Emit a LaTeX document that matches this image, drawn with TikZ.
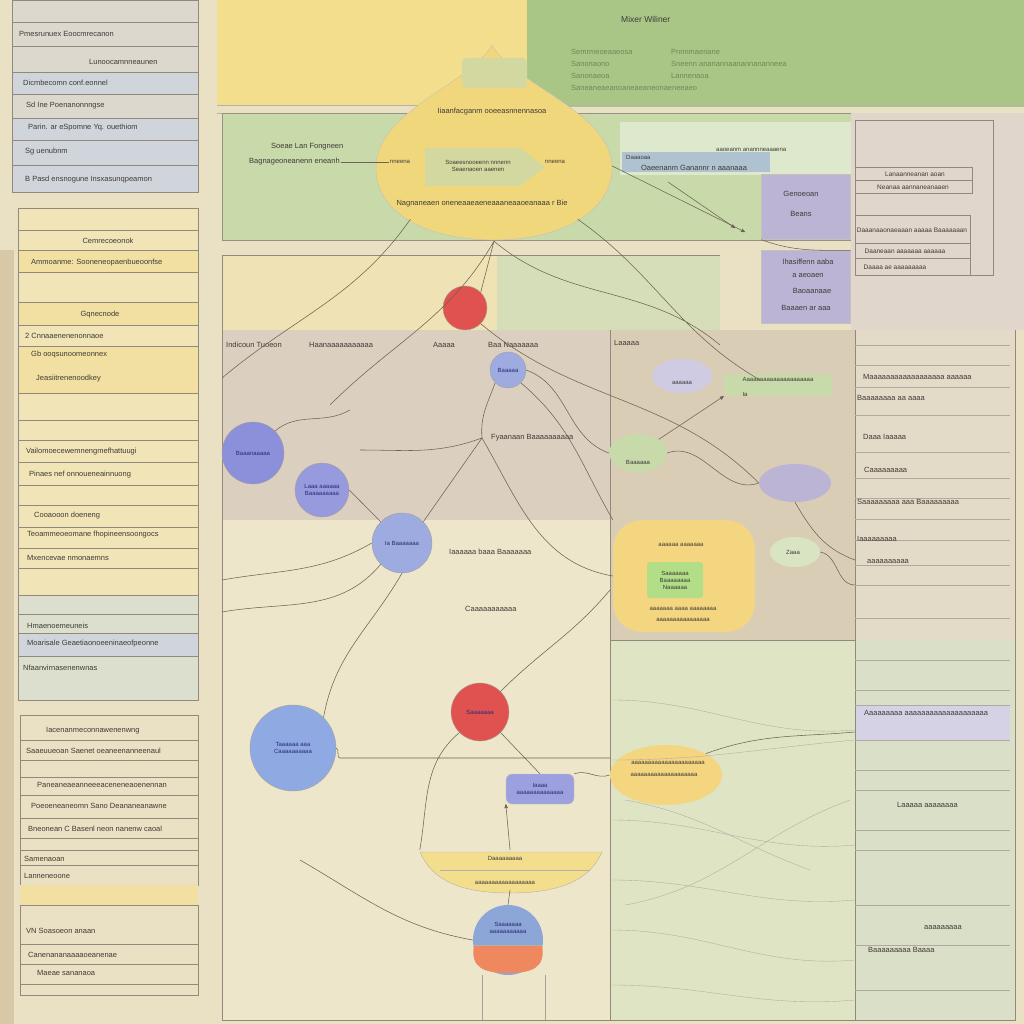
\documentclass[tikz,border=0pt]{standalone}
\usepackage{fontspec}
\setmainfont{Liberation Sans}
\usetikzlibrary{arrows, positioning, shapes.geometric}
\definecolor{bgbeige}{HTML}{EAE0C3}
\definecolor{leftstrip}{HTML}{D9C8A6}
\definecolor{paneltop}{HTML}{DDD8CE}
\definecolor{rowblue}{HTML}{D0D5DB}
\definecolor{panelyel}{HTML}{F1E4B6}
\definecolor{rowyel}{HTML}{F2E0A2}
\definecolor{panelgrn}{HTML}{DCDFCE}
\definecolor{yelbox}{HTML}{F3DE8E}
\definecolor{greenbox}{HTML}{A9C686}
\definecolor{greenpanel}{HTML}{C8D9AA}
\definecolor{blobyel}{HTML}{F1D77C}
\definecolor{innergrn}{HTML}{D2D8A0}
\definecolor{rowbluemid}{HTML}{AFC2D0}
\definecolor{purplebox}{HTML}{BBB4D5}
\definecolor{rightpanel}{HTML}{E0D6CB}
\definecolor{midyel}{HTML}{EFE2B4}
\definecolor{midgrn}{HTML}{D5DEB9}
\definecolor{midmauve}{HTML}{DBD0BF}
\definecolor{midright}{HTML}{DACDB5}
\definecolor{lowbeige}{HTML}{EEE6CB}
\definecolor{lowgrn}{HTML}{DFE4C5}
\definecolor{rightlow}{HTML}{DADFC8}
\definecolor{redc}{HTML}{E0524F}
\definecolor{bluec}{HTML}{9DABE0}
\definecolor{skyc}{HTML}{8FAAE2}
\definecolor{violetc}{HTML}{8C8FD9}
\definecolor{orangec}{HTML}{EF875F}
\definecolor{edgec}{HTML}{6E6252}
\definecolor{txtc}{HTML}{3E3B37}
\definecolor{grntxt}{HTML}{6F8858}
\tikzset{
    %Define standard arrow tip
    >=stealth',
}

\begin{document}
\begin{tikzpicture}[x=1pt,y=-1pt]
    \tikzset{
      lbl/.style={font=\fontsize{7.5}{8.5}\selectfont, text=txtc, inner sep=1pt, anchor=west},
      clbl/.style={lbl, anchor=center},
      sml/.style={clbl, font=\fontsize{6}{7}\selectfont},
      ln/.style={draw=edgec, line width=0.55pt},
      hair/.style={draw=edgec!55, line width=0.35pt},
      rowline/.style={draw=edgec!75, line width=0.6pt},
      circ/.style={circle, draw=edgec!60, line width=0.4pt, inner sep=0pt,
                   font=\fontsize{6}{7}\selectfont, text=txtc!70!blue, align=center},
    }

    % background and panels
    \fill[bgbeige] (0,0) rectangle (1024,1024);
    \useasboundingbox (0,0) rectangle (1024,1024);
    \fill[leftstrip] (0,250) rectangle (14,1024);

    % left column
    \fill[paneltop] (12,0) rectangle (198,192);
    \fill[rowblue] (12,72) rectangle (198,94) (12,118) rectangle (198,192);
    \draw[rowline] (12,0) rectangle (198,192);
    \foreach \y in {22,46,72,94,118,140,165} \draw[rowline] (12,\y) -- (198,\y);
    \fill[panelyel] (18,208) rectangle (198,595);
    \fill[rowyel] (18,250) rectangle (198,272) (18,302) rectangle (198,325) (18,346) rectangle (198,393);
    \draw[rowline] (18,208) rectangle (198,595);
    \foreach \y in {230,250,272,302,325,346,393,420,440,462,485,505,527,548,568}
        \draw[rowline] (18,\y) -- (198,\y);
    \fill[panelgrn] (18,595) rectangle (198,700);
    \fill[rowblue] (18,633) rectangle (198,656);
    \draw[rowline] (18,595) rectangle (198,700);
    \foreach \y in {614,633,656} \draw[rowline] (18,\y) -- (198,\y);
    \draw[rowline] (20,715) rectangle (198,885);
    \foreach \y in {740,760,777,795,818,838,850,865} \draw[rowline] (20,\y) -- (198,\y);
    \fill[rowyel] (20,885) rectangle (198,905);
    \draw[rowline] (20,905) rectangle (198,995);
    \foreach \y in {944,964,984} \draw[rowline] (20,\y) -- (198,\y);

    % top boxes
    \fill[yelbox] (217,0) rectangle (527,105);
    \fill[greenbox] (527,0) rectangle (1024,107);
    \draw[edgec!50] (217,105) -- (1024,105) (217,113) -- (1024,113);
    \draw[edgec!70, fill=greenpanel] (222,113) rectangle (851,240);
    \fill[greenpanel!60!white] (620,122) rectangle (851,175);
    \fill[rightpanel] (851,113) rectangle (1024,330);
    \draw[rowline] (855,120) rectangle (993,275);

    % middle and lower regions
    \fill[midyel] (222,255) rectangle (497,330);
    \fill[midgrn] (497,255) rectangle (720,330);
    \fill[midmauve] (222,330) rectangle (610,520);
    \fill[midright] (610,330) rectangle (855,640);
    \fill[lowbeige] (222,520) rectangle (610,1020);
    \fill[lowgrn] (610,640) rectangle (855,1020);
    \fill[rightpanel!60!bgbeige] (855,330) rectangle (1015,640);
    \fill[rightlow] (855,640) rectangle (1015,1020);
    \fill[purplebox!60!white] (855,705) rectangle (1010,740);
    \draw[rowline] (222,255) -- (720,255);
    \draw[rowline] (222,255) -- (222,1020) -- (1015,1020) -- (1015,330);
    \draw[rowline] (610,330) -- (610,1020) (855,330) -- (855,1020);
    \draw[rowline] (610,640) -- (855,640);
    \foreach \y in {345,365,387,415,452,478,498,519,540,565,585,618,660,690,705,740,770,790,830,850,905,945,990}
        \draw[hair] (855,\y) -- (1010,\y);

    % yellow teardrop
    \draw[edgec!40, fill=blobyel] (492,45) .. controls (470,85) and (376,110) .. (376,168)
        .. controls (376,215) and (430,240) .. (494,240)
        .. controls (560,240) and (612,212) .. (612,168)
        .. controls (612,112) and (514,85) .. (492,45);
    \node[ellipse, minimum width=236, minimum height=150] (tear) at (494,166) {};
    \fill[innergrn, rounded corners=4] (462,58) rectangle (527,88);
    \fill[innergrn] (425,148) -- (520,148) -- (545,167) -- (520,186) -- (425,186) -- cycle;

    % purple boxes
    \node[draw=edgec!40, fill=purplebox, minimum width=89, minimum height=65] (genbox) at (806,207) {};
    \node[draw=edgec!40, fill=purplebox, minimum width=89, minimum height=73] (hasbox) at (806,287) {};
    \node[fill=rowbluemid, minimum width=148, minimum height=20, inner sep=0pt] (bluerow) at (696,162) {};

    % nodes in the middle
    \node[circ, fill=redc, minimum size=44] (redtop) at (465,308) {};
    \node[circ, fill=bluec, minimum size=36] (bluetop) at (508,370) {Baaaaa};
    \node[circ, fill=violetc, minimum size=62] (violet) at (253,453) {Baaanaaaaa};
    \node[circ, fill=violetc!90!white, minimum size=54, ellipse] (blob) at (322,490) {Laaa aaaaaa\\Baaaaaaaaa};
    \node[circ, fill=bluec, minimum size=60] (bluemid) at (402,543) {Ia Baaaaaaa};
    \node[circ, fill=skyc, minimum size=86] (bluebig) at (293,748) {Taaaaaa aaa\\Caaaaaaaaaa};
    \node[circ, fill=redc, minimum size=58] (redlow) at (480,712) {Saaaaaaa};
    \node[draw=edgec!40, fill=violetc!85!white, rounded corners=6, minimum width=68, minimum height=30,
          font=\fontsize{6}{7}\selectfont, text=txtc!70!blue, align=center] (bluerect) at (540,789) {Iaaaa\\aaaaaaaaaaaaaa};
    \node[ellipse, fill=yelbox!90!orange, minimum width=112, minimum height=60] (yelell) at (666,775) {};
    \node[ellipse, fill=purplebox, minimum width=72, minimum height=38] (purblob) at (795,483) {};
    \node[ellipse, fill=greenpanel, minimum width=58, minimum height=38] (grnblob) at (638,453) {};
    \node[ellipse, fill=purplebox!70!white, minimum width=60, minimum height=34] (palepur) at (682,376) {};
    \node[ellipse, fill=greenpanel!70!white, minimum width=50, minimum height=30] (grnfaint) at (795,552) {};
    \node[fill=greenpanel, minimum width=108, minimum height=22] (grnrow) at (778,385) {};

    % yellow block and bowl
    \node[draw=edgec!30, fill=yelbox!90!orange, rounded corners=28, minimum width=142, minimum height=112] (yelblock) at (684,576) {};
    \node[fill=innergrn!85!green, rounded corners=3, minimum width=56, minimum height=36,
          font=\fontsize{6}{7}\selectfont, text=txtc, align=center] (inner) at (675,580) {Saaaaaaa\\Baaaaaaaa\\Naaaaaa};
    \draw[edgec!50, fill=yelbox] (420,852) -- (602,852) .. controls (590,880) and (560,893) .. (510,893)
        .. controls (460,893) and (432,880) .. (420,852);
    \draw[edgec!50] (440,870) -- (590,870);
    \node[minimum width=180, minimum height=40] (bowl) at (510,870) {};
    \node[circle, fill=skyc!90!gray, minimum size=70] (dome) at (508,940) {};
    \fill[orangec] (474,945) -- (542,945) .. controls (546,968) and (532,973) .. (508,973)
        .. controls (484,973) and (470,968) .. (474,945);
    \draw[edgec!50] (474,945) -- (542,945);
    \draw[edgec!60] (482,975) -- (482,1020) (545,975) -- (545,1020);

    % labels: left column
    \node[lbl] (l1) at (18,34) {Pmesrunuex Eoocmrecanon};
    \node[lbl] (l2) at (88,62) {Lunoocamnneaunen};
    \node[lbl] (l3) at (22,83) {Dicmbecomn conf.eonnel};
    \node[lbl] (l4) at (25,106) {Sd Ine Poenanonnngse};
    \node[lbl] (l5) at (27,128) {Parin. ar eSpomne Yq. ouethiom};
    \node[lbl] (l6) at (24,152) {Sg uenubnm};
    \node[lbl] (l7) at (24,180) {B Pasd ensnogune Insxasunqpeamon};
    \node[clbl] (l8) at (108,241) {Cemrecoeonok};
    \node[lbl] (l9) at (30,263) {Ammoanme: Sooneneopaenbueoonfse};
    \node[clbl] (l10) at (100,315) {Gqnecnode};
    \node[lbl] (l11) at (24,336) {2 Cnnaaenenenonnaoe};
    \node[lbl] (l12) at (30,355) {Gb ooqsunoomeonnex};
    \node[lbl] (l13) at (35,379) {Jeasiitrenenoodkey};
    \node[lbl] (l14) at (25,452) {Vailomoecewemnengmefhattuugi};
    \node[lbl] (l15) at (28,475) {Pinaes nef onnoueneainnuong};
    \node[lbl] (l16) at (33,516) {Cooaooon doeneng};
    \node[lbl] (l17) at (26,535) {Teoammeoeomane fhopineensoongocs};
    \node[lbl] (l18) at (26,558) {Mxencevae nmonaemns};
    \node[lbl] (l19) at (26,626) {Hmaenoemeuneis};
    \node[lbl] (l20) at (26,644) {Moarisale Geaetiaonoeeninaeofpeonne};
    \node[lbl] (l21) at (22,668) {Nfaanvirnasenenwnas};
    \node[lbl] (l22) at (45,731) {Iacenanmeconnawenenwng};
    \node[lbl] (l23) at (25,751) {Saaeuueoan Saenet oeaneenanneenaul};
    \node[lbl] (l24) at (36,785) {Paneaneaeanneeeaceneneaoenennan};
    \node[lbl] (l25) at (30,806) {Poeoeneaneomn Sano Deananeanawne};
    \node[lbl] (l26) at (27,829) {Bneonean C Basenl neon nanenw caoal};
    \node[lbl] (l27) at (23,859) {Samenaoan};
    \node[lbl] (l28) at (23,876) {Lanneneoone};
    \node[lbl] (l29) at (25,931) {VN Soasoeon anaan};
    \node[lbl] (l30) at (27,955) {Canenananaaaaoeanenae};
    \node[lbl] (l31) at (36,973) {Maeae sananaoa};

    % labels: top and right
    \node[lbl, font=\fontsize{8.5}{9}\selectfont] (title) at (620,19) {Mixer Wiliner};
    \node[lbl, text=grntxt] (t1) at (570,52) {Semrmeoeaaeosa};
    \node[lbl, text=grntxt] (t2) at (570,64) {Sanonaono};
    \node[lbl, text=grntxt] (t3) at (570,76) {Sanonaeoa};
    \node[lbl, text=grntxt] (t4) at (570,88) {Saneaneaeanoaneaeaneonaeneeaeo};
    \node[lbl, text=grntxt] (t5) at (670,52) {Pnnnmaenane};
    \node[lbl, text=grntxt] (t6) at (670,64) {Sneenn ananannaanannananneea};
    \node[lbl, text=grntxt] (t7) at (670,76) {Lannenaoa};
    \node[lbl] (s1) at (270,147) {Soeae Lan Fongneen};
    \node[lbl] (s2) at (248,162) {Bagnageoneanenn eneanh};
    \node[clbl] (y1) at (492,112) {Iiaanfacganm ooeeasnnennasoa};
    \node[sml, align=center] (y2) at (478,166) {Soaeesnooeenn nnnenn\\Seaenaoen aaenen};
    \node[sml] (y3) at (400,162) {nneena};
    \node[sml] (y4) at (555,162) {nneena};
    \node[clbl] (y5) at (482,204) {Nagnaneaen oneneaaeaeneaaaneaaoeanaaa r Bie};
    \node[lbl, font=\fontsize{6}{7}\selectfont] (b1) at (715,150) {aaoeanm anannneaaaena};
    \node[lbl, font=\fontsize{6}{7}\selectfont] (b2) at (625,157) {Daaaoaa};
    \node[clbl] (b3) at (694,168) {Oaeenanm Ganannr n aaanaaa};
    \node[clbl] (g1) at (801,194) {Genoeoan};
    \node[clbl] (g2) at (801,214) {Beans};
    \node[clbl] (h1) at (808,262) {Ihasiffenn aaba};
    \node[clbl] (h2) at (808,276) {a aeoaen};
    \node[clbl] (h3) at (812,291) {Baoaanaae};
    \node[clbl] (h4) at (806,308) {Baaaen ar aaa};
    \draw[rowline] (855,167) rectangle (972,193) (855,180) -- (972,180);
    \draw[rowline] (855,215) rectangle (970,275) (855,243) -- (970,243) (855,258) -- (970,258);
    \node[clbl, font=\fontsize{6.5}{7}\selectfont] (r1) at (915,174) {Lanaanneanan aoan};
    \node[clbl, font=\fontsize{6.5}{7}\selectfont] (r2) at (913,187) {Neanaa aannaneanaaen};
    \node[clbl, font=\fontsize{6.5}{7}\selectfont] (r3) at (912,230) {Daaanaaonaeaaan aaaaa Baaaaaaan};
    \node[clbl, font=\fontsize{6.5}{7}\selectfont] (r4) at (905,251) {Daaneaan aaaaaaa aaaaaa};
    \node[clbl, font=\fontsize{6.5}{7}\selectfont] (r5) at (895,267) {Daaaa ae aaaaaaaaa};

    % labels: middle and lower
    \node[lbl] (m1) at (225,345) {Indicoun Tuoeon};
    \node[lbl] (m2) at (308,345) {Haanaaaaaaaaaaa};
    \node[lbl] (m3) at (432,345) {Aaaaa};
    \node[lbl] (m4) at (487,345) {Baa Naaaaaaa};
    \node[lbl] (m5) at (613,343) {Laaaaa};
    \node[lbl] (m6) at (490,438) {Fyaanaan Baaaaaaaaaa};
    \node[lbl] (m7) at (448,552) {Iaaaaaa baaa Baaaaaaa};
    \node[lbl] (m8) at (464,609) {Caaaaaaaaaaa};
    \node[sml] (m9) at (682,383) {aaaaaa};
    \node[sml] (m10) at (778,379) {Aaaaaaaaaaaaaaaaaaaaa};
    \node[sml] (m11) at (745,394) {Ia};
    \node[sml] (m12) at (638,462) {Baaaaaa};
    \node[sml] (m13) at (793,552) {Zaaa};
    \node[sml] (m14) at (681,545) {aaaaaa aaaaaaa};
    \node[sml] (m15) at (683,609) {aaaaaaa aaaa aaaaaaaa};
    \node[sml] (m16) at (683,620) {aaaaaaaaaaaaaaaa};
    \node[sml] (m17) at (668,763) {aaaaaaaaaaaaaaaaaaaaaa};
    \node[sml] (m18) at (664,775) {aaaaaaaaaaaaaaaaaaaa};
    \node[sml] (m19) at (505,858) {Daaaaaaaaa};
    \node[sml] (m20) at (505,883) {aaaaaaaaaaaaaaaaaa};
    \node[sml, text=txtc!70!blue, align=center] (m21) at (508,928) {Saaaaaaa\\aaaaaaaaaaa};
    \node[lbl] (q1) at (862,377) {Maaaaaaaaaaaaaaaaaa aaaaaa};
    \node[lbl] (q2) at (856,398) {Baaaaaaaa aa aaaa};
    \node[lbl] (q3) at (862,437) {Daaa Iaaaaa};
    \node[lbl] (q4) at (863,470) {Caaaaaaaaa};
    \node[lbl] (q5) at (856,502) {Saaaaaaaaa aaa Baaaaaaaaa};
    \node[lbl] (q6) at (856,539) {Iaaaaaaaaa};
    \node[lbl] (q7) at (866,562) {aaaaaaaaaa};
    \node[lbl] (q8) at (863,713) {Aaaaaaaaa aaaaaaaaaaaaaaaaaaaa};
    \node[lbl] (q9) at (896,805) {Laaaaa aaaaaaaa};
    \node[lbl] (q10) at (923,928) {aaaaaaaaa};
    \node[lbl] (q11) at (867,950) {Baaaaaaaaa Baaaa};

    % connectors
    \coordinate (lftA) at (222,378);
    \coordinate (lftB) at (222,580);
    \coordinate (lftC) at (222,612);
    \coordinate (physlbl) at (482,438);
    \coordinate (hline) at (340,758);
    \coordinate (endA) at (745,232);
    \coordinate (endB) at (720,345);
    \coordinate (endC) at (760,380);
    \coordinate (endD) at (300,860);
    \coordinate (endE) at (855,560);
    \path[ln] (tear.south west) to[out=235, in=40] (lftA)
              (tear.south) to[out=240, in=45] (330,405)
              (tear.south) -- (redtop.north east)
              (tear.south) to[out=-40, in=140] (endB)
              (tear.south east) to[out=-35, in=150] (endC)
              (redtop.south east) to[out=-40, in=135] (purblob.west)
              (bluetop.east) to[out=-20, in=160] (grnblob.west)
              (bluetop.south east) to[out=-40, in=120] (yelblock.north west)
              (physlbl) to[out=200, in=0] (360,450)
              (physlbl) -- (bluemid.north east)
              (physlbl) to[out=95, in=250] (bluetop.south west)
              (physlbl) to[out=-60, in=170] (yelblock.west)
              (violet.north east) to[out=40, in=210] (350,410)
              (blob.east) -- (bluemid.north west)
              (lftB) to[out=10, in=210] (bluemid.west)
              (lftC) to[out=10, in=230] (bluemid.south west)
              (bluemid.south) to[out=240, in=80] (bluebig.north east)
              (bluebig.east) to[out=-20, in=180] (hline) -- (610,758)
              (redlow.north east) to[out=45, in=230] (610,590)
              (redlow.south west) to[out=220, in=80] (bowl.north west)
              (redlow.south east) -- (bluerect.north)
              (bluerect.north east) to[out=20, in=200] (yelell.west)
              (yelell.north east) to[out=20, in=185] (855,732)
              (grnblob.east) to[out=20, in=200] (purblob.west)
              (purblob.south) to[out=-60, in=160] (endE)
              (grnfaint.east) to[out=-10, in=180] (855,585)
              (endD) to[out=-30, in=170] (dome.west)
              (dome.north) -- (bowl.south);
    \draw[ln, ->] (tear.east) -- (endA);
    \draw[ln, ->] (668,182) -- (735,228);
    \draw[ln, ->] (bowl.north) -- (bluerect.south west);
    \draw[ln, ->] (grnblob.north east) -- (grnrow.south west);
    \draw[ln] (s2.east) -- (y3.west);
    \draw[ln] (genbox.south west) to[out=-20, in=180] (hasbox.north east);
    \foreach \y/\e in {700/730, 760/740, 820/845, 880/900, 930/960, 985/1000}
        \draw[hair] (612,\y) to[out=0, in=185] (855,\e);
    \draw[hair] (625,905) to[out=10, in=200] (850,800);
    \draw[hair] (625,800) to[out=-10, in=160] (810,870);
\end{tikzpicture}
\end{document}
